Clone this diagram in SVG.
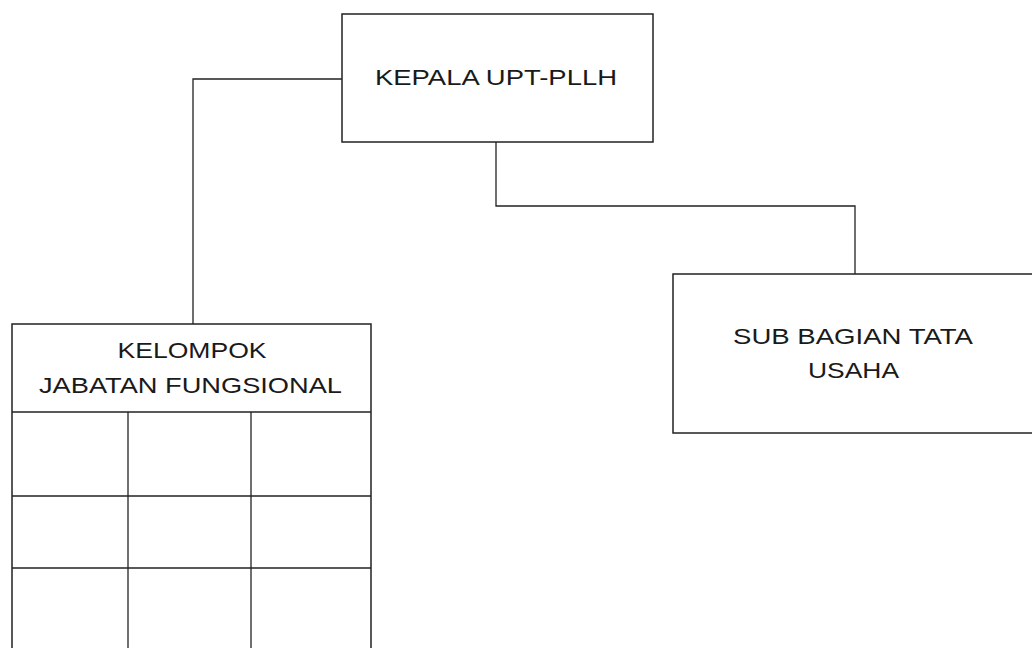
<svg xmlns="http://www.w3.org/2000/svg" width="1032" height="648" viewBox="0 0 1032 648">
<style>
.box{fill:none;stroke:#222;stroke-width:1.5}
.ln{fill:none;stroke:#222;stroke-width:1.3}
.t{font-family:"Liberation Sans",Arial,sans-serif;font-size:22px;fill:#1a1a1a;text-anchor:middle}
</style>
<rect width="1032" height="648" fill="#fff"/>
<g id="connectors">
<polyline class="ln" points="342,79 193,79 193,324"/>
<polyline class="ln" points="496,142 496,206 855,206 855,274"/>
</g>
<g id="kepala">
<rect class="box" x="342" y="14" width="311" height="128"/>
<text class="t" x="496" y="85" textLength="242" lengthAdjust="spacingAndGlyphs">KEPALA UPT-PLLH</text>
</g>
<g id="subbagian">
<rect class="box" x="673" y="274" width="380" height="159"/>
<text class="t" x="853" y="344" textLength="240" lengthAdjust="spacingAndGlyphs">SUB BAGIAN TATA</text>
<text class="t" x="853.5" y="378" textLength="91" lengthAdjust="spacingAndGlyphs">USAHA</text>
</g>
<g id="kelompok">
<rect class="box" x="12" y="324" width="359" height="340"/>
<line class="ln" x1="12" y1="412" x2="371" y2="412"/>
<line class="ln" x1="12" y1="496" x2="371" y2="496"/>
<line class="ln" x1="12" y1="568" x2="371" y2="568"/>
<line class="ln" x1="128" y1="412" x2="128" y2="664"/>
<line class="ln" x1="251" y1="412" x2="251" y2="664"/>
<text class="t" x="192" y="358" textLength="149" lengthAdjust="spacingAndGlyphs">KELOMPOK</text>
<text class="t" x="190.5" y="393" textLength="303" lengthAdjust="spacingAndGlyphs">JABATAN FUNGSIONAL</text>
</g>
</svg>
